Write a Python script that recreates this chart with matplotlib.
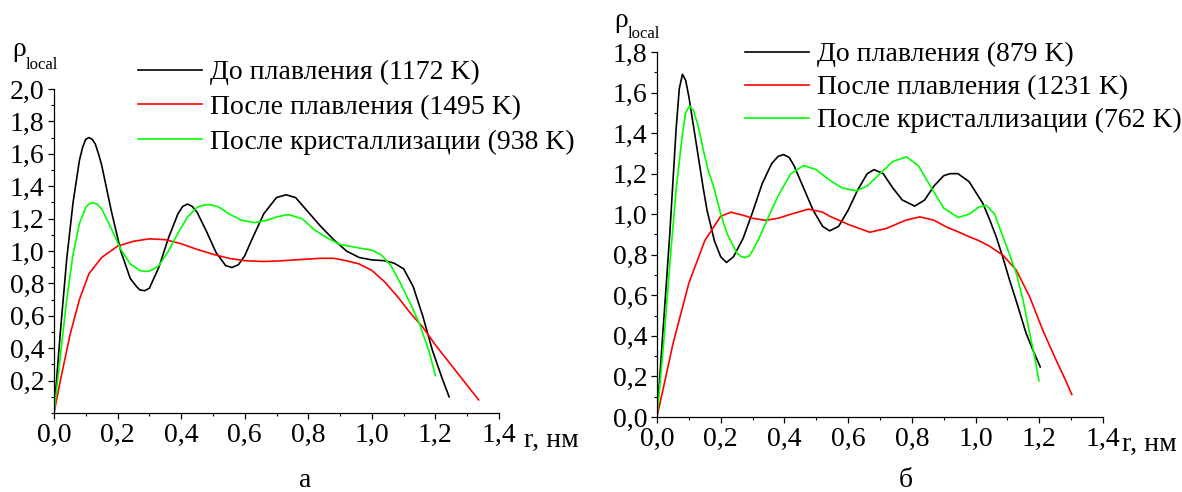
import numpy as np
import matplotlib.pyplot as plt
from matplotlib.ticker import MultipleLocator, FixedLocator

plt.rcParams['font.family'] = ['Liberation Serif', 'DejaVu Serif']

W, H = 1182, 492

# ---------------- panel (а) ----------------
a_labels = ["До плавления (1172 K)", "После плавления (1495 K)",
            "После кристаллизации (938 K)"]

a_before_r = [0.0, 0.02, 0.04, 0.06, 0.08, 0.09, 0.10, 0.11, 0.12, 0.13, 0.14, 0.15,
              0.18, 0.21, 0.24, 0.26, 0.27, 0.285, 0.30, 0.33, 0.36, 0.39, 0.405, 0.42,
              0.435, 0.45, 0.48, 0.51, 0.54, 0.56, 0.58, 0.60, 0.62, 0.66, 0.70, 0.73,
              0.76, 0.80, 0.84, 0.88, 0.92, 0.96, 1.00, 1.04, 1.07, 1.10, 1.13, 1.16,
              1.19, 1.22, 1.243]
a_before_v = [0.0, 0.5, 0.95, 1.3, 1.56, 1.64, 1.69, 1.70, 1.69, 1.66, 1.60, 1.53,
              1.25, 1.0, 0.83, 0.78, 0.76, 0.755, 0.77, 0.9, 1.08, 1.23, 1.275, 1.29,
              1.275, 1.24, 1.12, 0.99, 0.91, 0.898, 0.915, 0.97, 1.06, 1.23, 1.33, 1.347,
              1.33, 1.24, 1.15, 1.07, 1.0, 0.96, 0.945, 0.94, 0.925, 0.89, 0.78, 0.6,
              0.39, 0.22, 0.10]

a_melt_r = [0.0, 0.02, 0.05, 0.08, 0.11, 0.15, 0.2, 0.25, 0.3, 0.35, 0.4, 0.45, 0.5,
            0.55, 0.6, 0.66, 0.72, 0.78, 0.84, 0.88, 0.92, 0.96, 1.0, 1.04, 1.08, 1.12,
            1.16, 1.2, 1.24, 1.28, 1.336]
a_melt_v = [0.0, 0.2, 0.48, 0.7, 0.86, 0.96, 1.03, 1.06, 1.075, 1.07, 1.045, 1.01, 0.98,
            0.955, 0.94, 0.935, 0.94, 0.948, 0.955, 0.955, 0.94, 0.92, 0.88, 0.81, 0.72,
            0.62, 0.53, 0.42, 0.32, 0.22, 0.081]

a_cryst_r = [0.0, 0.02, 0.04, 0.06, 0.08, 0.10, 0.11, 0.123, 0.135, 0.15, 0.18, 0.21,
             0.24, 0.27, 0.285, 0.30, 0.315, 0.33, 0.36, 0.39, 0.42, 0.45, 0.47, 0.487,
             0.505, 0.52, 0.55, 0.59, 0.63, 0.67, 0.70, 0.737, 0.78, 0.82, 0.86, 0.90,
             0.95, 1.00, 1.03, 1.06, 1.09, 1.12, 1.15, 1.18, 1.20]
a_cryst_v = [0.0, 0.35, 0.7, 0.98, 1.17, 1.27, 1.29, 1.298, 1.29, 1.26, 1.14, 1.01,
             0.92, 0.88, 0.874, 0.876, 0.89, 0.91, 1.0, 1.11, 1.21, 1.27, 1.283, 1.286,
             1.28, 1.27, 1.23, 1.19, 1.175, 1.19, 1.21, 1.225, 1.2, 1.13, 1.08, 1.04,
             1.022, 1.005, 0.975, 0.91, 0.8, 0.68, 0.55, 0.38, 0.23]

# ---------------- panel (б) ----------------
b_labels = ["До плавления (879 K)", "После плавления (1231 K)",
            "После кристаллизации (762 K)"]

b_before_r = [0.0, 0.02, 0.04, 0.06, 0.07, 0.08, 0.09, 0.10, 0.115, 0.13, 0.145, 0.157,
              0.18, 0.2, 0.218, 0.24, 0.27, 0.3, 0.33, 0.36, 0.38, 0.397, 0.415, 0.43,
              0.46, 0.49, 0.52, 0.542, 0.57, 0.6, 0.63, 0.66, 0.6815, 0.71, 0.74, 0.77,
              0.809, 0.84, 0.87, 0.9, 0.92, 0.945, 0.98, 1.0, 1.023, 1.045, 1.065, 1.085,
              1.107, 1.13, 1.159, 1.18, 1.203]
b_before_v = [0.0, 0.45, 0.9, 1.42, 1.62, 1.69, 1.66, 1.58, 1.43, 1.28, 1.13, 1.02,
              0.87, 0.79, 0.762, 0.79, 0.88, 1.01, 1.15, 1.25, 1.285, 1.294, 1.28, 1.24,
              1.13, 1.02, 0.94, 0.918, 0.94, 1.02, 1.12, 1.2, 1.22, 1.2, 1.13, 1.07,
              1.04, 1.07, 1.14, 1.19, 1.2, 1.2, 1.16, 1.11, 1.053, 0.97, 0.888, 0.79,
              0.674, 0.56, 0.411, 0.33, 0.247]

b_melt_r = [0.0, 0.05, 0.1, 0.15, 0.2, 0.232, 0.27, 0.3, 0.34, 0.38, 0.42, 0.476, 0.52,
            0.5425, 0.6, 0.668, 0.72, 0.78, 0.825, 0.87, 0.908, 0.95, 0.981, 1.01, 1.044,
            1.086, 1.128, 1.17, 1.211, 1.25, 1.28, 1.302]
b_melt_v = [0.0, 0.36, 0.66, 0.87, 0.99, 1.01, 0.995, 0.98, 0.97, 0.98, 1.0, 1.025, 1.01,
            0.99, 0.95, 0.911, 0.93, 0.97, 0.987, 0.97, 0.9375, 0.91, 0.888, 0.87, 0.842,
            0.798, 0.724, 0.592, 0.428, 0.29, 0.19, 0.111]

b_cryst_r = [0.0, 0.02, 0.04, 0.06, 0.08, 0.09, 0.1025, 0.115, 0.13, 0.145, 0.16, 0.178,
             0.2, 0.22, 0.25, 0.265, 0.277, 0.29, 0.3, 0.32, 0.345, 0.38, 0.42, 0.46,
             0.5, 0.54, 0.58, 0.626, 0.66, 0.7, 0.74, 0.783, 0.82, 0.866, 0.9, 0.945,
             0.98, 1.01, 1.034, 1.06, 1.086, 1.107, 1.128, 1.15, 1.17, 1.185, 1.199]
b_cryst_v = [0.0, 0.35, 0.75, 1.12, 1.40, 1.50, 1.535, 1.51, 1.43, 1.32, 1.22, 1.135,
             1.0, 0.905, 0.81, 0.79, 0.786, 0.795, 0.82, 0.88, 0.97, 1.09, 1.2, 1.24,
             1.22, 1.17, 1.13, 1.115, 1.14, 1.2, 1.26, 1.283, 1.24, 1.118, 1.03, 0.984,
             1.0, 1.035, 1.044, 1.0, 0.888, 0.8, 0.707, 0.57, 0.411, 0.3, 0.178]

x_ticks = [0.0, 0.2, 0.4, 0.6, 0.8, 1.0, 1.2, 1.4]
x_ticklabels = ["0,0", "0,2", "0,4", "0,6", "0,8", "1,0", "1,2", "1,4"]
a_yticks = [0.2, 0.4, 0.6, 0.8, 1.0, 1.2, 1.4, 1.6, 1.8, 2.0]
a_yticklabels = ["0,2", "0,4", "0,6", "0,8", "1,0", "1,2", "1,4", "1,6", "1,8", "2,0"]
b_yticks = [0.0, 0.2, 0.4, 0.6, 0.8, 1.0, 1.2, 1.4, 1.6, 1.8]
b_yticklabels = ["0,0", "0,2", "0,4", "0,6", "0,8", "1,0", "1,2", "1,4", "1,6", "1,8"]

colors = ["#000000", "#ff0000", "#00ff00"]
FS = 20


def px(x, y):
    return x / W, 1 - y / H


fig = plt.figure(figsize=(W / 100, H / 100), dpi=100)


def make_panel(rect, curves, labels, yticks, yticklabels, ymax, xlab_off):
    ax = fig.add_axes(rect)
    for (r, v), c, lab in zip(curves, colors, labels):
        ax.plot(r, v, "-", color=c, linewidth=1.2, label=lab)
    ax.set_xlim(0, 1.4)
    ax.set_ylim(0, ymax)
    ax.spines["top"].set_visible(False)
    ax.spines["right"].set_visible(False)
    for s in ("left", "bottom"):
        ax.spines[s].set_linewidth(0.9)
    ax.xaxis.set_major_locator(FixedLocator(x_ticks))
    ax.set_xticklabels(x_ticklabels)
    ax.xaxis.set_minor_locator(MultipleLocator(0.1))
    ax.yaxis.set_major_locator(FixedLocator(yticks))
    ax.set_yticklabels(yticklabels)
    ax.yaxis.set_minor_locator(MultipleLocator(0.1))
    ax.tick_params(which="major", direction="out", length=4, width=0.9,
                   labelsize=FS, pad=3)
    ax.tick_params(which="minor", direction="out", length=2.2, width=0.8)
    ax.annotate("r, нм", xy=(1, 0), xycoords="axes fraction",
                xytext=(xlab_off, -24.5), textcoords="offset points",
                fontsize=FS, ha="left", va="baseline")
    return ax


ax1 = make_panel([54 / W, 1 - 413 / H, 445 / W, 324 / H],
                 [(a_before_r, a_before_v), (a_melt_r, a_melt_v), (a_cryst_r, a_cryst_v)],
                 a_labels, a_yticks, a_yticklabels, 2.0, 18)
ax2 = make_panel([657 / W, 1 - 417 / H, 446 / W, 365 / H],
                 [(b_before_r, b_before_v), (b_melt_r, b_melt_v), (b_cryst_r, b_cryst_v)],
                 b_labels, b_yticks, b_yticklabels, 1.8, 14)

for ax, (lx, ly), sp in ((ax1, (138, 60), 0.33), (ax2, (745, 42), 0.27)):
    ax.legend(loc="upper left", bbox_to_anchor=px(lx, ly),
              bbox_transform=fig.transFigure, frameon=False, fontsize=FS,
              handlelength=2.3, handletextpad=0.3, labelspacing=sp,
              borderpad=0, borderaxespad=0)

# rho_local labels
fig.text(*px(12, 56), "ρ", fontsize=FS, ha="left", va="baseline")
fig.text(*px(26, 69), "local", fontsize=12, ha="left", va="baseline")
fig.text(*px(614, 27), "ρ", fontsize=FS, ha="left", va="baseline")
fig.text(*px(628, 38), "local", fontsize=12, ha="left", va="baseline")

# panel letters
fig.text(*px(305, 487), "а", fontsize=FS, ha="center", va="baseline")
fig.text(*px(906, 487), "б", fontsize=FS, ha="center", va="baseline")

fig.savefig("out.png", dpi=100)
